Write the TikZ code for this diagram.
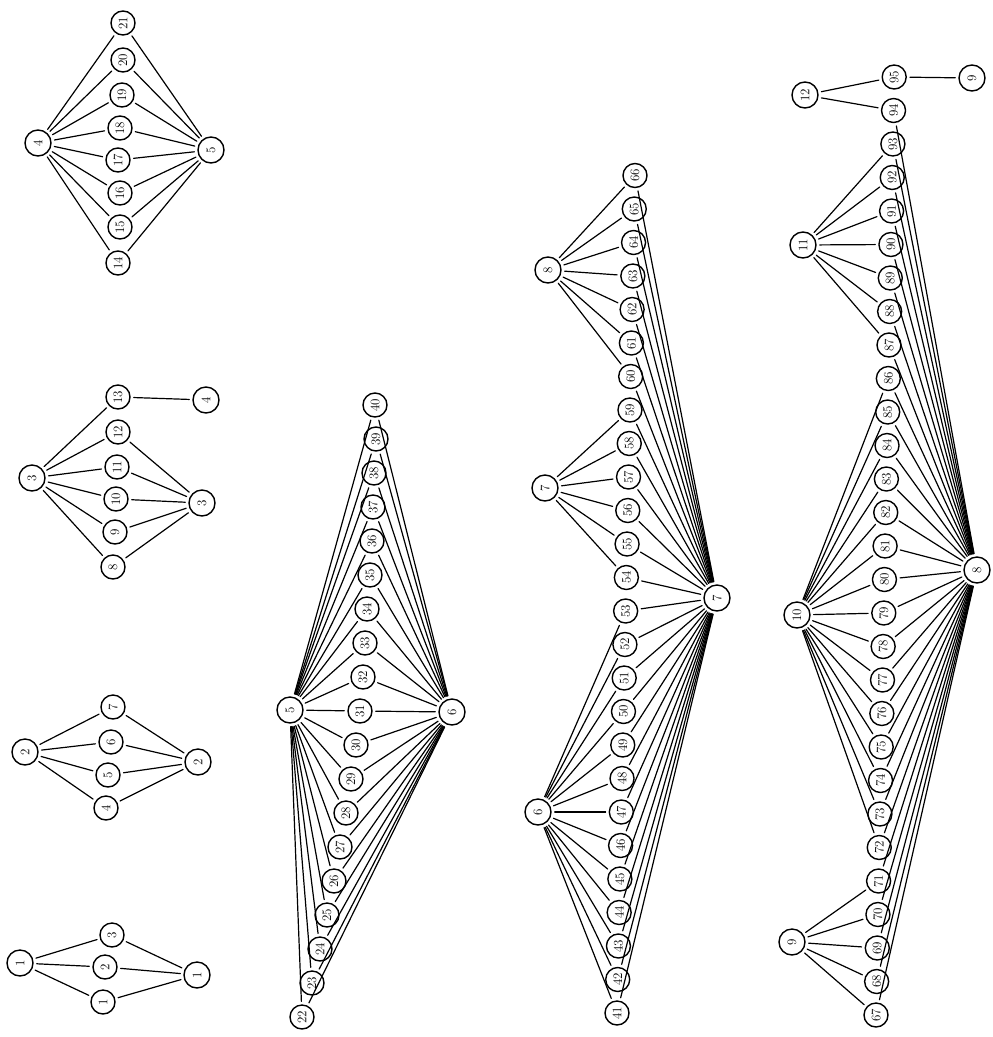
\documentclass[tikz,border=0pt]{standalone}

\begin{document}
\begin{tikzpicture}[x=1pt,y=-1pt,line cap=round,line join=round,
  vtx/.style={draw,circle,line width=1.4pt,minimum size=24pt,inner sep=0pt,
    font=\fontsize{13}{14}\selectfont,rotate=90},
  hubvtx/.style={vtx,minimum size=26pt},
  link/.style={line width=1.2pt,shorten >=3pt,shorten <=3pt}]
\useasboundingbox (0,0) rectangle (993,1037);

% graph 1
\node[hubvtx] (l1) at (20,963) {1};
\node[hubvtx] (r1) at (197,975) {1};
\foreach \k/\x/\y in {1/103/1002,2/105/967,3/112/935}
  \node[vtx] (n\k) at (\x,\y) {\k};
\foreach \k in {1,...,3} {\draw[link] (l1) -- (n\k); \draw[link] (n\k) -- (r1);}

% graph 2
\node[hubvtx] (l2) at (25,752) {2};
\node[hubvtx] (r2) at (198,762) {2};
\foreach \k/\x/\y in {4/106/808,5/108/775,6/111/742,7/113/707}
  \node[vtx] (n\k) at (\x,\y) {\k};
\foreach \k in {4,...,7} {\draw[link] (l2) -- (n\k); \draw[link] (n\k) -- (r2);}

% graph 3
\node[hubvtx] (l3) at (32,478) {3};
\node[hubvtx] (r3) at (202,503) {3};
\node[hubvtx] (r4) at (206,400) {4};
\foreach \k/\x/\y in {8/113/567,9/115/532,10/116/499,11/117/467,12/118/432,13/118/397}
  \node[vtx] (n\k) at (\x,\y) {\k};
\foreach \k in {8,...,13} \draw[link] (l3) -- (n\k);
\foreach \k in {8,...,12} \draw[link] (n\k) -- (r3);
\draw[link] (n13) -- (r4);

% graph 4
\node[hubvtx] (l4) at (38,143) {4};
\node[hubvtx] (r5) at (211,150) {5};
\foreach \k/\x/\y in {14/118/263,15/120/227,16/120/193,17/118/160,18/120/128,19/122/95,20/123/60,21/123/23}
  \node[vtx] (n\k) at (\x,\y) {\k};
\foreach \k in {14,...,21} {\draw[link] (l4) -- (n\k); \draw[link] (n\k) -- (r5);}

% graph 5
\node[hubvtx] (l5) at (290,710) {5};
\node[hubvtx] (r6) at (452,712) {6};
\foreach \k/\x in {22/302,23/312,24/320,25/327,26/334,27/340,28/346,29/351,30/356,31/360,
    32/363,33/365,34/367,35/370,36/372,37/373,38/374,39/376,40/375}
  \node[vtx] (n\k) at (\x,{405+(40-\k)*34}) {\k};
\foreach \k in {22,...,40} {\draw[link] (l5) -- (n\k); \draw[link] (n\k) -- (r6);}

% graph 6
\node[hubvtx] (l6) at (538,812) {6};
\node[hubvtx] (l7) at (545,488) {7};
\node[hubvtx] (l8) at (548,270) {8};
\node[hubvtx] (r7) at (717,598) {7};
\foreach \k in {41,...,66}
  \node[vtx] (n\k) at ({617+(\k-41)*0.72},{1013-(\k-41)*33.5}) {\k};
\foreach \k in {41,...,53} \draw[link] (l6) -- (n\k);
\foreach \k in {54,...,59} \draw[link] (l7) -- (n\k);
\foreach \k in {60,...,66} \draw[link] (l8) -- (n\k);
\foreach \k in {41,...,66} \draw[link] (n\k) -- (r7);

% graph 7
\node[hubvtx] (l9) at (792,942) {9};
\node[hubvtx] (l10) at (797,615) {10};
\node[hubvtx] (l11) at (803,245) {11};
\node[hubvtx] (l12) at (805,95) {12};
\node[hubvtx] (r8) at (977,570) {8};
\node[hubvtx] (r9) at (972,78) {9};
\foreach \k in {67,...,95}
  \node[vtx] (n\k) at ({876+(\k-67)*0.65},{77+(95-\k)*33.5}) {\k};
\foreach \k in {67,...,71} \draw[link] (l9) -- (n\k);
\foreach \k in {72,...,86} \draw[link] (l10) -- (n\k);
\foreach \k in {87,...,93} \draw[link] (l11) -- (n\k);
\foreach \k in {94,95} \draw[link] (l12) -- (n\k);
\foreach \k in {67,...,94} \draw[link] (n\k) -- (r8);
\draw[link] (n95) -- (r9);
\end{tikzpicture}
\end{document}
